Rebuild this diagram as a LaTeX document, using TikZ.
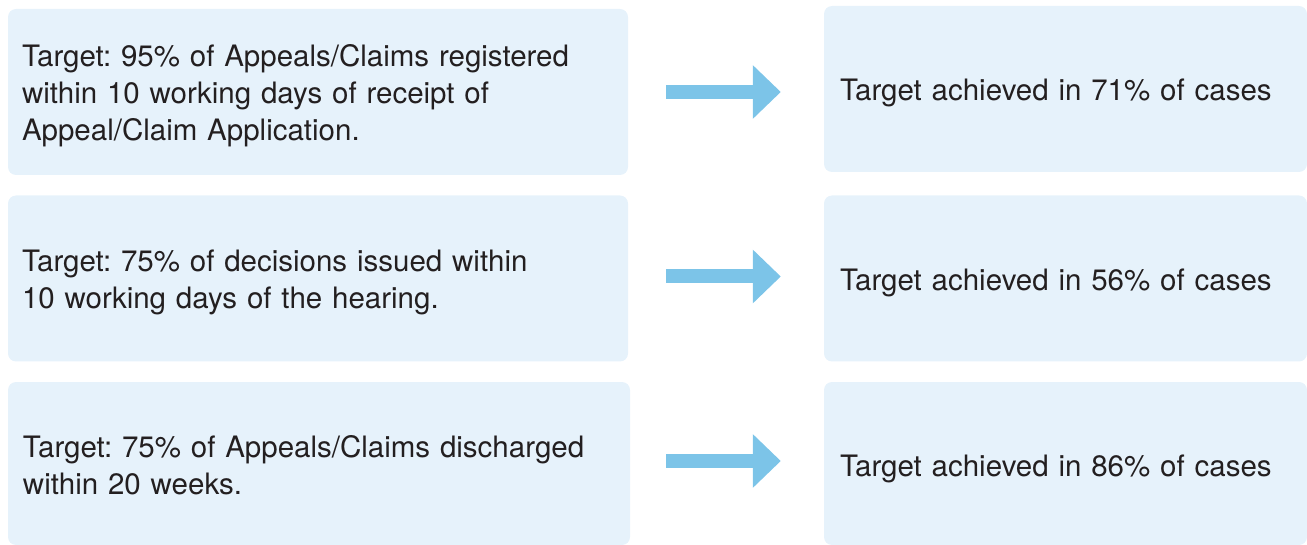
\documentclass[tikz,border=0pt]{standalone}
\usepackage{fontspec}
\setmainfont{TeX Gyre Heros}
\usetikzlibrary{arrows.meta}
\usetikzlibrary{positioning}
\definecolor{boxblue}{HTML}{E6F2FB}
\definecolor{arrowblue}{HTML}{7CC4E8}
\definecolor{inkgrey}{HTML}{231F20}
\frenchspacing
\tikzset{topstrut/.initial=30pt}
\tikzset{
    target/.style={
           rectangle,
           rounded corners=8pt,
           fill=boxblue,
           text=inkgrey,
           minimum width=620pt,
           minimum height=166pt,
           text width=592pt,
           inner xsep=14pt,
           align=left,
           execute at begin node={\rule{0pt}{\pgfkeysvalueof{/tikz/topstrut}}},
           font=\fontsize{29.5}{37}\selectfont,
           },
}
\tikzset{
    result/.style={
           target,
           minimum width=483pt,
           text width=451pt,
           inner xsep=16pt,
           },
}
\tikzset{
    bigarrow/.style={
           draw=arrowblue,
           line width=14pt,
           -{Triangle[length=28pt,width=52pt]},
           },
}

\begin{document}
\begin{tikzpicture}[x=1pt,y=-1pt]
 \useasboundingbox (0,0) rectangle (1307,545);
 \clip (0,0) rectangle (1307,545);

 \node[target](T1) at (318,92)
 {Target: 95\% of Appeals/Claims registered\\
  within 10 working days of receipt of\\
  Appeal/Claim Application.};

 \node[target](T2) at (318,278.5)
 {Target: 75\% of decisions issued within\\
  10 working days of the hearing.};

 \node[target,minimum width=622pt,minimum height=163pt,
  topstrut=25pt](T3) at (319,463.5)
 {Target: 75\% of Appeals/Claims discharged\\
  within 20 weeks.};

 \node[result](R1) at (1065.5,89)
 {Target achieved in 71\% of cases};

 \node[result](R2) at (1065.5,278.5)
 {Target achieved in 56\% of cases};

 \node[result,minimum height=163pt,
  topstrut=33pt](R3) at (1065.5,463.5)
 {Target achieved in 86\% of cases};

 \draw[bigarrow] ([xshift=38pt]T1.east) -- ([xshift=-43pt,yshift=-3pt]R1.west);
 \draw[bigarrow] ([xshift=38pt,yshift=2pt]T2.east) -- ([xshift=-43pt,yshift=2pt]R2.west);
 \draw[bigarrow] ([xshift=36pt,yshift=2.5pt]T3.east) -- ([xshift=-43pt,yshift=2.5pt]R3.west);

\end{tikzpicture}
\end{document}
